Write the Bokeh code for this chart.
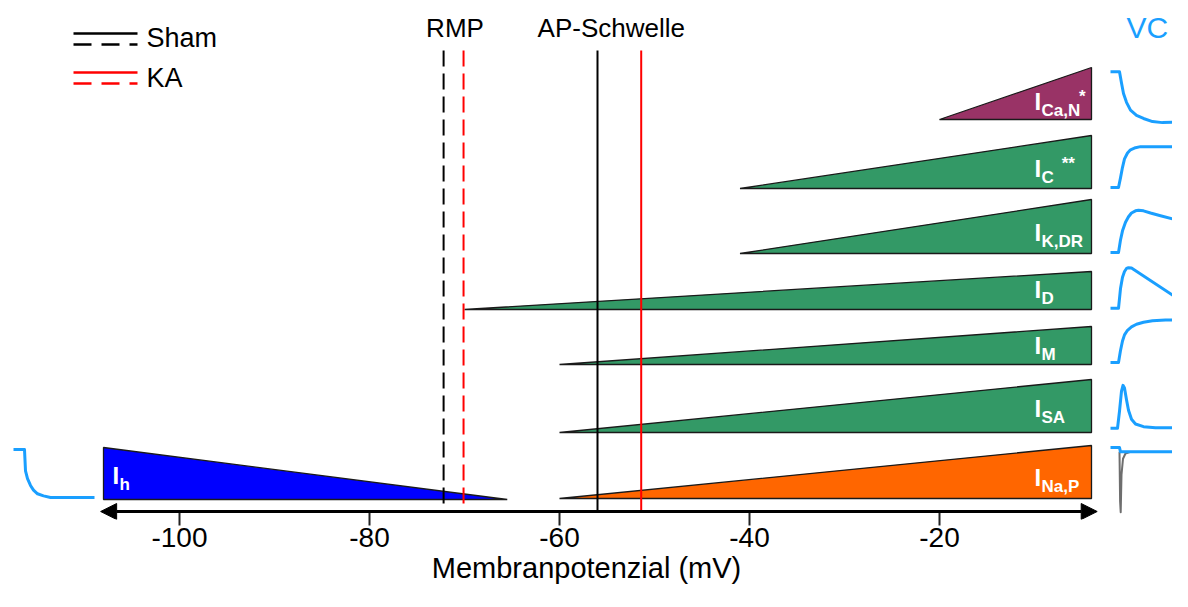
from bokeh.plotting import figure
from bokeh.models import Range1d, FixedTicker, Arrow, NormalHead, Title
from bokeh.embed import file_html
from bokeh.resources import INLINE
from bokeh.core.properties import value

FONT = "Liberation Sans"

# ---------------- data ----------------
tick_values = [-100, -80, -60, -40, -20]
tick_labels = ["-100", "-80", "-60", "-40", "-20"]

channels = ["h", "Na,P", "SA", "M", "D", "K,DR", "C", "Ca,N"]
channel_super = ["", "", "", "", "", "", "**", "*"]
v_lo = [-108.0, -60.0, -60.0, -60.0, -70.0, -41.0, -41.0, -20.0]
v_hi = [-65.5, -4.0, -4.0, -4.0, -4.0, -4.0, -4.0, -4.0]
rising = [False, True, True, True, True, True, True, True]
colors = ["#0000ff", "#ff6600", "#339966", "#339966", "#339966", "#339966", "#339966", "#993366"]

rmp_sham, rmp_ka = -72.2, -70.1
thr_sham, thr_ka = -56.0, -51.4

# voltage-clamp traces: time (a.u.) and normalised current (0 = bottom of row, 1 = top)
vc_h_t = [0, 11, 12, 14, 17, 20, 24, 30, 37, 81]
vc_h_i = [0.96, 0.96, 0.55, 0.40, 0.27, 0.18, 0.11, 0.07, 0.04, 0.04]
vc_nap_t = [0, 9, 10, 78]
vc_nap_i = [0.96, 0.96, 0.88, 0.88]
vc_nap_grey_t = [9, 9.6, 10.2, 11, 12.5, 15, 20]
vc_nap_grey_i = [0.88, -0.05, -0.26, 0.45, 0.75, 0.85, 0.88]
vc_sa_t = [0, 7, 9, 11, 12.5, 14, 16, 18, 21, 25, 33, 45, 78]
vc_sa_i = [0.08, 0.08, 0.40, 0.78, 0.89, 0.84, 0.62, 0.42, 0.25, 0.16, 0.11, 0.09, 0.09]
vc_m_t = [0, 8, 10, 12, 14, 17, 21, 26, 33, 42, 55, 78]
vc_m_i = [0.05, 0.05, 0.37, 0.62, 0.78, 0.90, 0.99, 1.06, 1.11, 1.15, 1.17, 1.18]
vc_d_t = [0, 8, 10, 12, 14, 16, 18, 21, 24, 78]
vc_d_i = [0.03, 0.03, 0.55, 0.85, 1.00, 1.08, 1.10, 1.09, 1.04, 0.10]
vc_kdr_t = [0, 8, 10, 12, 15, 18, 21, 25, 28, 33, 40, 50, 62, 78]
vc_kdr_i = [0.02, 0.02, 0.25, 0.42, 0.58, 0.68, 0.75, 0.79, 0.80, 0.79, 0.75, 0.70, 0.64, 0.56]
vc_c_t = [0, 8, 10, 12, 14, 17, 20, 25, 30, 40, 78]
vc_c_i = [0.02, 0.02, 0.20, 0.40, 0.56, 0.67, 0.73, 0.77, 0.79, 0.79, 0.79]
vc_can_t = [0, 9, 11, 13, 16, 20, 26, 33, 42, 52, 65, 78]
vc_can_i = [0.92, 0.92, 0.70, 0.50, 0.33, 0.18, 0.08, 0.02, -0.04, -0.06, -0.05, 0.02]

# ---------------- layout / style ----------------
W, H = 1172, 591
FRAME_BOTTOM = 519                   # px
PX0, PX_PER_MV = 179.0, 9.5          # px of -100 mV, px per mV
BASE_FIX = 0.34                      # alphabetic-baseline correction (em)

row_top = [447, 445, 379, 326, 271, 199, 135, 67]
row_bot = [499, 498, 432, 364, 309, 253, 188, 119]
label_lift = [9, 6, 9, 4, 5, 6, 5, 3]

def mv_at(px):
    return -100 + (px - PX0) / PX_PER_MV

def by(baseline, size):
    return baseline - BASE_FIX * size

p = figure(width=W, height=H,
           x_range=Range1d(mv_at(0), mv_at(W)),
           y_range=Range1d(FRAME_BOTTOM, 0),
           output_backend="svg", toolbar_location=None,
           min_border_left=0, min_border_right=0, min_border_top=0,
           min_border_bottom=H - FRAME_BOTTOM,
           y_axis_location=None)
p.extra_x_ranges = {"px": Range1d(0, W)}
p.outline_line_color = None
p.xgrid.visible = False
p.ygrid.visible = False
p.background_fill_color = "white"
p.border_fill_color = "white"

ax = p.xaxis[0]
ax.ticker = FixedTicker(ticks=tick_values)
ax.major_label_overrides = {v: s for v, s in zip(tick_values, tick_labels)}
ax.axis_line_color = None
ax.major_tick_in = 8
ax.major_tick_out = 6
ax.major_tick_line_width = 2
ax.major_tick_line_color = "#222222"
ax.minor_tick_line_color = None
ax.major_label_text_font = FONT
ax.major_label_text_font_size = "28px"
ax.major_label_text_color = "black"
ax.major_label_standoff = 2

p.add_layout(Title(text="Membranpotenzial (mV)", align="center", offset=25,
                   text_font=FONT, text_font_size="29px", text_font_style="normal",
                   text_color="black", standoff=0), "below")

# triangles
for i in range(len(channels)):
    if rising[i]:
        xs = [v_lo[i], v_hi[i], v_hi[i]]
        ys = [row_bot[i], row_bot[i], row_top[i]]
    else:
        xs = [v_lo[i], v_lo[i], v_hi[i]]
        ys = [row_bot[i], row_top[i], row_bot[i]]
    p.patch(xs, ys, fill_color=colors[i], line_color="#1a1a1a", line_width=1.3)

# channel labels
I_SIZE, SUB_SIZE = 24, 17
lab_x, sub_x, sup_x, lab_y, sub_y, sup_y, sups = [], [], [], [], [], [], []
for i in range(len(channels)):
    x0 = 1034 if rising[i] else 112
    base = row_bot[i] - label_lift[i]
    lab_x.append(x0)
    sub_x.append(x0 + 7)
    lab_y.append(by(base - 7, I_SIZE))
    sub_y.append(by(base, SUB_SIZE))
    if channel_super[i]:
        w = sum(11.2 if c.isupper() else (4.7 if c == "," else 9.4) for c in channels[i])
        sup_x.append(x0 + 7 + w + (9 if len(channels[i]) == 1 else 1))
        sup_y.append(by(base - 14, SUB_SIZE))
        sups.append(channel_super[i])

p.text(x=lab_x, y=lab_y, text=["I"] * len(lab_x), x_range_name="px",
       text_font=value(FONT), text_font_style="bold", text_font_size=f"{I_SIZE}px",
       text_color="white", text_baseline="alphabetic", text_align="left")
p.text(x=sub_x, y=sub_y, text=channels, x_range_name="px",
       text_font=value(FONT), text_font_style="bold", text_font_size=f"{SUB_SIZE}px",
       text_color="white", text_baseline="alphabetic", text_align="left")
p.text(x=sup_x, y=sup_y, text=sups, x_range_name="px",
       text_font=value(FONT), text_font_style="bold", text_font_size=f"{SUB_SIZE}px",
       text_color="white", text_baseline="alphabetic", text_align="left")

# voltage-clamp traces
BLUE = "#1a9fff"
def trace(t, cur, row, x0, color=BLUE, lw=3):
    h = row_bot[row] - row_top[row]
    xs = [x0 + v for v in t]
    ys = [row_bot[row] - c * h for c in cur]
    p.line(xs, ys, x_range_name="px", line_color=color, line_width=lw,
           line_join="round", line_cap="butt")

trace(vc_h_t, vc_h_i, 0, 13)
trace(vc_nap_grey_t, vc_nap_grey_i, 1, 1110, color="#6e6e6e", lw=2)
trace(vc_nap_t, vc_nap_i, 1, 1110)
trace(vc_sa_t, vc_sa_i, 2, 1110)
trace(vc_m_t, vc_m_i, 3, 1110)
trace(vc_d_t, vc_d_i, 4, 1110)
trace(vc_kdr_t, vc_kdr_i, 5, 1110)
trace(vc_c_t, vc_c_i, 6, 1110)
trace(vc_can_t, vc_can_i, 7, 1110)

# RMP and AP threshold lines
LINE_TOP, LINE_BOT = 50, 511
p.segment(x0=[rmp_sham, rmp_ka], y0=[LINE_TOP] * 2, x1=[rmp_sham, rmp_ka], y1=[LINE_BOT] * 2,
          line_color=["black", "#ff0000"], line_width=2, line_dash="16 7")
p.segment(x0=[thr_sham, thr_ka], y0=[LINE_TOP] * 2, x1=[thr_sham, thr_ka], y1=[LINE_BOT] * 2,
          line_color=["black", "#ff0000"], line_width=2)

p.text(x=[(rmp_sham + rmp_ka) / 2 + 0.15], y=[by(36, 26)], text=["RMP"],
       text_font=value(FONT), text_font_size="26px", text_color="black",
       text_align="center", text_baseline="alphabetic")
p.text(x=[(thr_sham + thr_ka) / 2 - 0.85], y=[by(36, 26)], text=["AP-Schwelle"],
       text_font=value(FONT), text_font_size="26px", text_color="black",
       text_align="center", text_baseline="alphabetic")

# legend
p.segment(x0=[73, 73], y0=[33, 72], x1=[137, 137], y1=[33, 72], x_range_name="px",
          line_color=["black", "#ff0000"], line_width=2.5)
p.segment(x0=[73, 73], y0=[44, 83], x1=[137, 137], y1=[44, 83], x_range_name="px",
          line_color=["black", "#ff0000"], line_width=2.5, line_dash="18 10")
p.text(x=[146, 146], y=[by(47, 27), by(87, 27)], text=["Sham", "KA"], x_range_name="px",
       text_font=value(FONT), text_font_size="27px", text_color="black",
       text_baseline="alphabetic", text_align="left")

p.text(x=[1126], y=[by(37, 30)], text=["VC"], x_range_name="px",
       text_font=value(FONT), text_font_size="30px", text_color=BLUE,
       text_baseline="alphabetic", text_align="left")

# double-headed axis arrow
p.add_layout(Arrow(start=NormalHead(size=16, fill_color="black", line_color="black"),
                   end=NormalHead(size=16, fill_color="black", line_color="black"),
                   x_start=-108.3, y_start=511, x_end=-3.4, y_end=511,
                   line_width=3, line_color="black"))

open("out.html", "w").write(file_html(p, INLINE))
